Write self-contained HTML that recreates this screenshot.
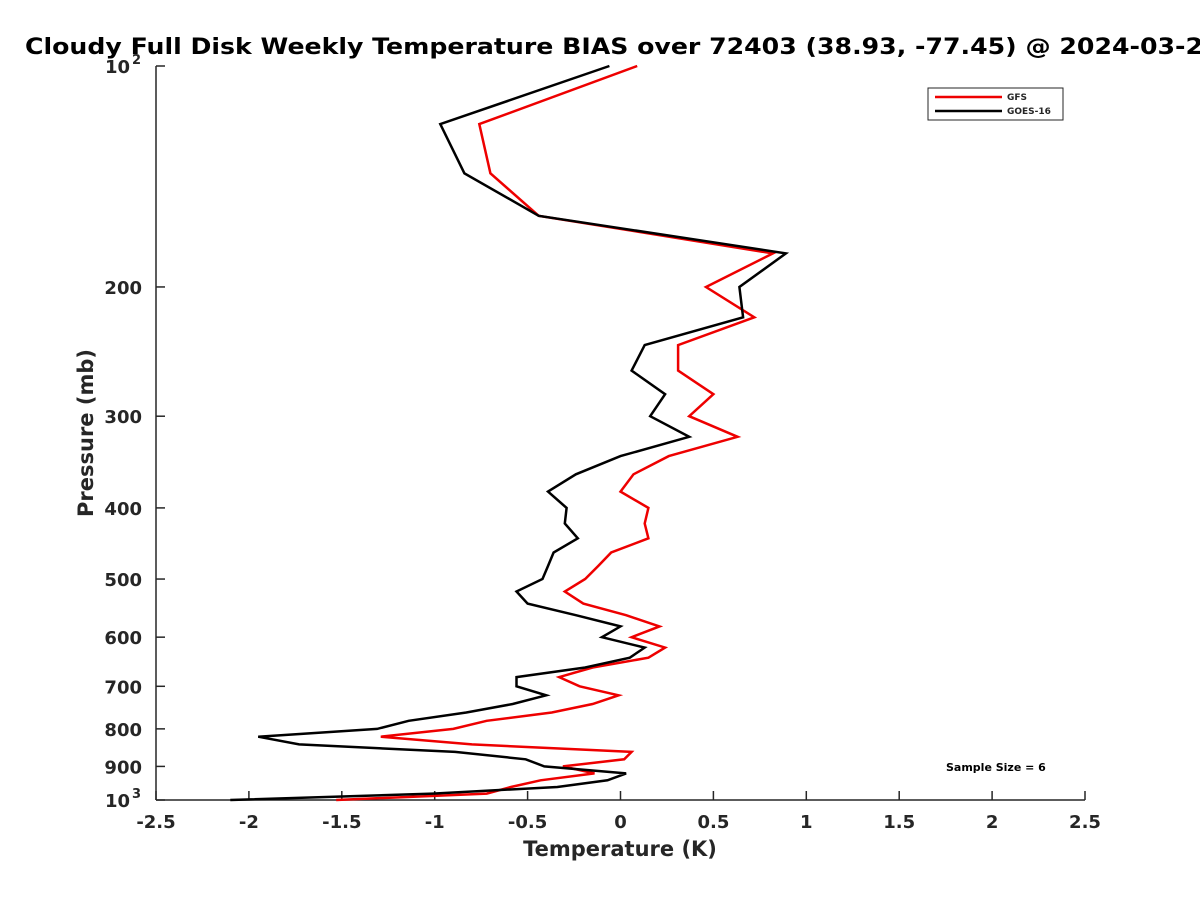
<!DOCTYPE html>
<html><head><meta charset="utf-8"><style>
body{margin:0;background:#fff;font-family:"Liberation Sans",sans-serif}
svg text{font-family:"DejaVu Sans","Liberation Sans",sans-serif;font-weight:bold;fill:#262626}
</style></head><body>
<svg id="chart" width="1200" height="900" xmlns="http://www.w3.org/2000/svg">
<text x="25" y="54" font-size="22" textLength="1178" lengthAdjust="spacingAndGlyphs" style="fill:#000">Cloudy Full Disk Weekly Temperature BIAS over 72403 (38.93, -77.45) @ 2024-03-2</text>
<g id="axes"></g>
<g id="series"></g>
<text x="620" y="856" font-size="21" text-anchor="middle">Temperature (K)</text>
<text transform="translate(93,433) rotate(-90)" font-size="21" text-anchor="middle">Pressure (mb)</text>
<g>
<rect x="928" y="88" width="135" height="32" fill="#fff" stroke="#262626" stroke-width="1"/>
<line x1="935" y1="97" x2="1002" y2="97" stroke="#e00" stroke-width="2.5"/>
<text x="1007" y="100" font-size="9">GFS</text>
<line x1="935" y1="111" x2="1002" y2="111" stroke="#000" stroke-width="2.5"/>
<text x="1007" y="114" font-size="9">GOES-16</text>
</g>
<text x="946" y="771" font-size="11" style="fill:#000">Sample Size = 6</text>
</svg>
<script>
const pressures=[100,120,140,160,180,200,220,240,260,280,300,320,340,360,380,400,420,440,460,480,500,520,540,560,580,600,620,640,660,680,700,720,740,760,780,800,820,840,860,880,900,920,940,960,980,1000];
const goesBias=[-0.06,-0.97,-0.84,-0.44,0.89,0.64,0.66,0.13,0.06,0.24,0.16,0.37,0.0,-0.24,-0.39,-0.29,-0.30,-0.23,-0.36,-0.39,-0.42,-0.56,-0.50,-0.24,0.0,-0.10,0.13,0.05,-0.19,-0.56,-0.56,-0.40,-0.58,-0.83,-1.14,-1.31,-1.95,-1.73,-0.89,-0.51,-0.41,0.03,-0.07,-0.34,-1.01,-2.10];
const gfsBias=[0.09,-0.76,-0.70,-0.44,0.82,0.46,0.72,0.31,0.31,0.50,0.37,0.63,0.26,0.07,0.0,0.15,0.13,0.15,-0.05,-0.12,-0.19,-0.30,-0.20,0.03,0.21,0.06,0.24,0.15,-0.15,-0.33,-0.22,-0.01,-0.15,-0.37,-0.72,-0.90,-1.29,-0.80,0.06,0.02,-0.31,-0.14,-0.43,-0.59,-0.72,-1.53];
const xTicks=[-2.5,-2,-1.5,-1,-0.5,0,0.5,1,1.5,2,2.5];
const xTickLabels=["-2.5","-2","-1.5","-1","-0.5","0","0.5","1","1.5","2","2.5"];
const yTicks=[100,200,300,400,500,600,700,800,900,1000];
const yTickLabels=["10|2","200","300","400","500","600","700","800","900","10|3"];
const NS="http://www.w3.org/2000/svg";
const X0=156,X1=1085,Y0=66,Y1=800;
function xs(v){return X0+(v+2.5)/5*(X1-X0);}
function ys(p){return Y0+Math.log10(p/100)*(Y1-Y0);}
function mk(tag,attrs,parent){const e=document.createElementNS(NS,tag);for(const k in attrs)e.setAttribute(k,attrs[k]);parent.appendChild(e);return e;}
const axes=document.getElementById('axes');
let l=mk('line',{x1:X0,y1:Y1,x2:X1,y2:Y1,stroke:'#262626','stroke-width':1.5},axes);


l=mk('line',{x1:X0,y1:Y0,x2:X0,y2:Y1,stroke:'#262626','stroke-width':1.5},axes);


xTicks.forEach((v,i)=>{
  const t=mk('line',{x1:xs(v),y1:Y1,x2:xs(v),y2:Y1-9,stroke:'#262626','stroke-width':1.5},axes);
  
  
  const tx=mk('text',{x:xs(v),y:Y1+28,'font-size':18,'text-anchor':'middle'},axes);
  tx.textContent=xTickLabels[i];
  
  
});
yTicks.forEach((p,i)=>{
  const t=mk('line',{x1:X0,y1:ys(p),x2:X0+9,y2:ys(p),stroke:'#262626','stroke-width':1.5},axes);
  
  
  const lab=yTickLabels[i];
  if(lab.indexOf('|')>=0){
    const parts=lab.split('|');
    const tx=mk('text',{x:X0-26,y:ys(p)+7,'font-size':18,'text-anchor':'end'},axes);
    tx.textContent=parts[0];
    
    
    const sp=mk('text',{x:X0-15,y:ys(p)-2,'font-size':13,'text-anchor':'end'},axes);
    sp.textContent=parts[1];
    
    
  } else {
    const tx=mk('text',{x:X0-14,y:ys(p)+7,'font-size':18,'text-anchor':'end'},axes);
    tx.textContent=lab;
    
    
  }
});
const ser=document.getElementById('series');
function line(vals,color,name){
  const pts=vals.map((v,i)=>xs(v).toFixed(1)+','+ys(pressures[i]).toFixed(1)).join(' ');
  const pl=mk('polyline',{points:pts,fill:'none',stroke:color,'stroke-width':2.5,'stroke-linejoin':'miter'},ser);
  
  
}
line(gfsBias,'#e00','gfs-line');
line(goesBias,'#000','goes16-line');
</script>
</body></html>
